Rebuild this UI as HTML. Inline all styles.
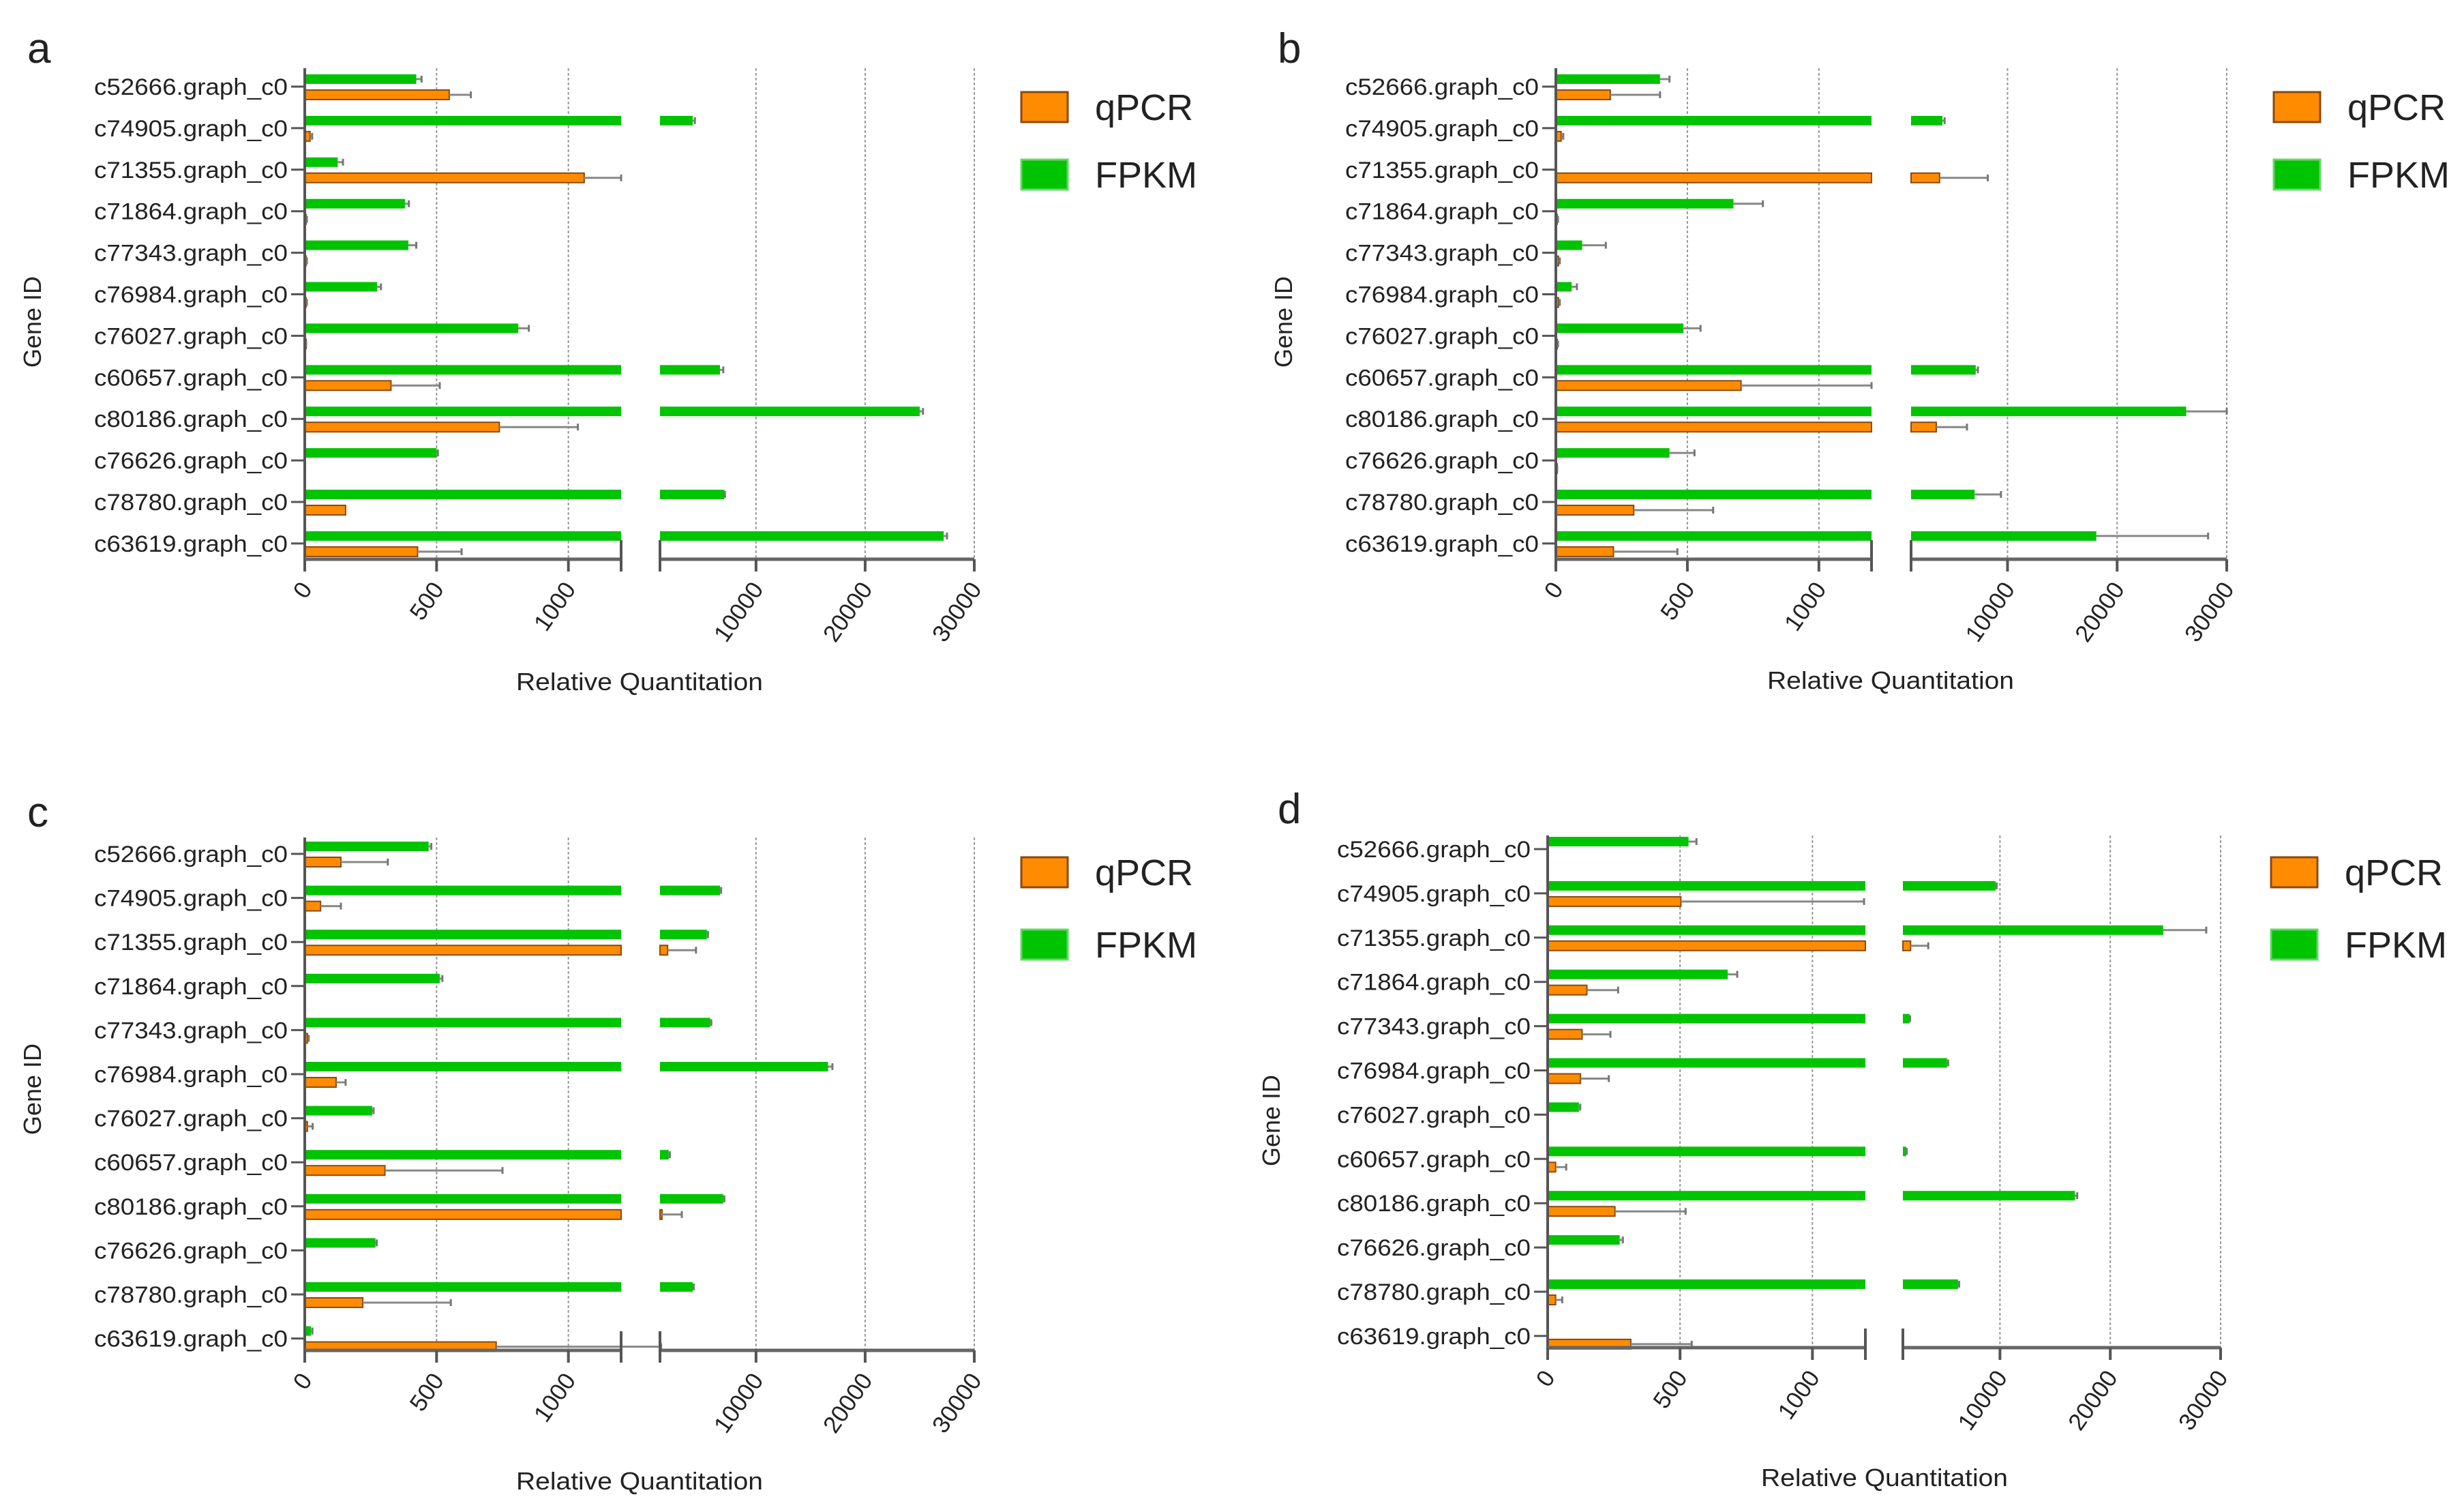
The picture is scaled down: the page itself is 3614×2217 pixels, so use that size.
<!DOCTYPE html>
<html><head><meta charset="utf-8"><style>
html,body{margin:0;padding:0;background:#fff}
svg{display:block}
text{font-family:"Liberation Sans",sans-serif;fill:#222}
</style></head><body>
<svg id="chart" width="3614" height="2217" viewBox="0 0 3614 2217" xmlns="http://www.w3.org/2000/svg"></svg>
<script>
const genes=["c52666.graph_c0","c74905.graph_c0","c71355.graph_c0","c71864.graph_c0","c77343.graph_c0","c76984.graph_c0","c76027.graph_c0","c60657.graph_c0","c80186.graph_c0","c76626.graph_c0","c78780.graph_c0","c63619.graph_c0"];
const tickValues=[0,500,1000,10000,20000,30000];
const tickLabels=["0","500","1000","10000","20000","30000"];
// panel a
const fpkmA=[423,4200,125,380,393,274,810,6700,25000,500,7100,27200];
const fpkmErrA=[20,200,20,15,30,15,40,300,300,5,50,300];
const qpcrA=[548,20,1060,5,5,5,3,327,738,0,155,428];
const qpcrErrA=[82,8,140,3,3,3,2,185,298,0,0,167];
// panel b
const fpkmB=[396,4060,0,675,100,60,485,7100,26300,432,7000,18100];
const fpkmErrB=[36,200,0,112,90,20,65,200,3700,95,2400,10200];
const qpcrB=[207,20,3800,5,10,10,5,704,3500,3,296,219];
const qpcrErrB=[189,8,4400,3,5,5,3,496,2800,2,302,243];
// panel c
const fpkmC=[470,6700,5500,512,5800,16600,256,2000,7000,268,4200,24];
const fpkmErrC=[10,100,100,10,100,400,5,100,100,5,100,5];
const qpcrC=[137,60,1900,0,10,119,10,304,1250,0,220,726];
const qpcrErrC=[178,77,2600,0,5,36,20,446,1950,0,334,574];
// panel d
const fpkmD=[532,9600,24800,680,1800,5200,118,1500,16800,272,6200,0];
const fpkmErrD=[30,100,3900,36,50,100,5,50,200,12,100,0];
const qpcrD=[0,503,1900,148,130,124,0,30,254,0,30,314];
const qpcrErrD=[0,692,1600,118,107,107,0,40,267,0,25,230];

const svg=document.getElementById('chart');
const NS="http://www.w3.org/2000/svg";
function mk(tag,attrs,parent){const e=document.createElementNS(NS,tag);for(const k in attrs)e.setAttribute(k,attrs[k]);(parent||svg).appendChild(e);return e;}

const panels=[
 {id:"a",x0:447,x12:911,s2:968,x30:1429,rowTop:127,step:60.9,axisY:820,top:100,letter:[40,92],legX:1498,legY:[157,256],gid:[60,472],rq:[938,1012],f:fpkmA,fe:fpkmErrA,q:qpcrA,qe:qpcrErrA},
 {id:"b",x0:2282,x12:2745,s2:2803,x30:3266,rowTop:127,step:60.9,axisY:820,top:100,letter:[1874,92],legX:3335,legY:[157,256],gid:[1895,472],rq:[2773,1010],f:fpkmB,fe:fpkmErrB,q:qpcrB,qe:qpcrErrB},
 {id:"c",x0:447,x12:911,s2:968,x30:1429,rowTop:1252,step:64.6,axisY:1980,top:1228,letter:[40,1212],legX:1498,legY:[1279,1385],gid:[60,1597],rq:[938,2184],f:fpkmC,fe:fpkmErrC,q:qpcrC,qe:qpcrErrC},
 {id:"d",x0:2270,x12:2736,s2:2791,x30:3257,rowTop:1245,step:64.9,axisY:1976,top:1225,letter:[1874,1207],legX:3331,legY:[1279,1385],gid:[1877,1643],rq:[2764,2179],f:fpkmD,fe:fpkmErrD,q:qpcrD,qe:qpcrErrD}
];

panels.forEach(p=>{
  const g=mk('g',{});
  
  
  const s1=v=>p.x0+(Math.min(v,1200))/1200*(p.x12-p.x0);
  const s2=v=>p.s2+(Math.min(v,30000)-1200)/28800*(p.x30-p.s2);
  const xpos=v=>v<=1200?s1(v):s2(v);
  const L=mk('text',{x:p.letter[0],y:p.letter[1],'font-size':62},g);L.textContent=p.id;
  
  tickValues.slice(1).forEach(v=>{
    const gl=mk('line',{x1:xpos(v),x2:xpos(v),y1:p.top,y2:p.axisY,stroke:'#999','stroke-width':2,'stroke-dasharray':'4,3'},g);
    
  });
  genes.forEach((name,i)=>{
    const c=p.rowTop+i*p.step;
    const lab=mk('text',{x:422,y:c+12,'font-size':34,'text-anchor':'end',textLength:284,lengthAdjust:'spacingAndGlyphs'},g);
    lab.setAttribute('transform','translate('+(p.x0-447)+',0)');
    lab.textContent=name;
    
    mk('line',{x1:p.x0-20,x2:p.x0,y1:c,y2:c,stroke:'#555','stroke-width':3},g);
    const series=[[p.f[i],p.fe[i],'#00c400','none',c-18],[p.q[i],p.qe[i],'#ff8c00','#8a4a10',c+5]];
    series.forEach((s,k)=>{
      const [v,e,fill,stroke,y]=s;
      if(v<=0)return;
      const h=14;
      const r1=mk('rect',{x:p.x0,y:y,width:Math.max(2,s1(v)-p.x0),height:h,fill:fill,stroke:stroke,'stroke-width':stroke==='none'?0:2},g);
      
      if(v>1200){
        const r2=mk('rect',{x:p.s2,y:y,width:Math.max(3,s2(v)-p.s2),height:h,fill:fill,stroke:stroke,'stroke-width':stroke==='none'?0:2},g);
        
      }
      if(e>0){
        const a=xpos(v),b=xpos(v+e);
        const eb=mk('line',{x1:a,x2:b,y1:y+h/2,y2:y+h/2,stroke:'#888','stroke-width':3},g);
        
        mk('line',{x1:b,x2:b,y1:y+h/2-5,y2:y+h/2+5,stroke:'#777','stroke-width':3},g);
      }
    });
  });
  mk('line',{x1:p.x0,x2:p.x0,y1:p.top,y2:p.axisY+18,stroke:'#555','stroke-width':4},g);
  mk('line',{x1:p.x0,x2:p.x12,y1:p.axisY,y2:p.axisY,stroke:'#666','stroke-width':5},g);
  mk('line',{x1:p.s2,x2:p.x30,y1:p.axisY,y2:p.axisY,stroke:'#666','stroke-width':5},g);
  [p.x12,p.s2].forEach(x=>mk('line',{x1:x,x2:x,y1:p.axisY-28,y2:p.axisY+18,stroke:'#555','stroke-width':4},g));
  tickValues.forEach((v,j)=>{
    const x=xpos(v);
    mk('line',{x1:x,x2:x,y1:p.axisY,y2:p.axisY+18,stroke:'#555','stroke-width':4},g);
    const t=mk('text',{x:0,y:0,'font-size':35,'text-anchor':'end',transform:'translate('+(x+12)+','+(p.axisY+44)+') rotate(-55)'},g);
    t.textContent=tickLabels[j];
    
  });
  const rq=mk('text',{x:p.rq[0],y:p.rq[1],'font-size':36,'text-anchor':'middle',textLength:362,lengthAdjust:'spacingAndGlyphs'},g);
  rq.textContent='Relative Quantitation';
  const gi=mk('text',{x:0,y:0,'font-size':36,'text-anchor':'middle',transform:'translate('+p.gid[0]+','+p.gid[1]+') rotate(-90)'},g);
  gi.textContent='Gene ID';
  [['qPCR','#ff8c00','#8a4a10'],['FPKM','#00c400','#6ad46a']].forEach((l,k)=>{
    const cy=p.legY[k];
    const sw=mk('rect',{x:p.legX,y:cy-22,width:68,height:44,fill:l[1],stroke:l[2],'stroke-width':3},g);
    
    const lt=mk('text',{x:p.legX+108,y:cy+19,'font-size':54},g);
    lt.textContent=l[0];
  });
});
</script>
</body></html>
